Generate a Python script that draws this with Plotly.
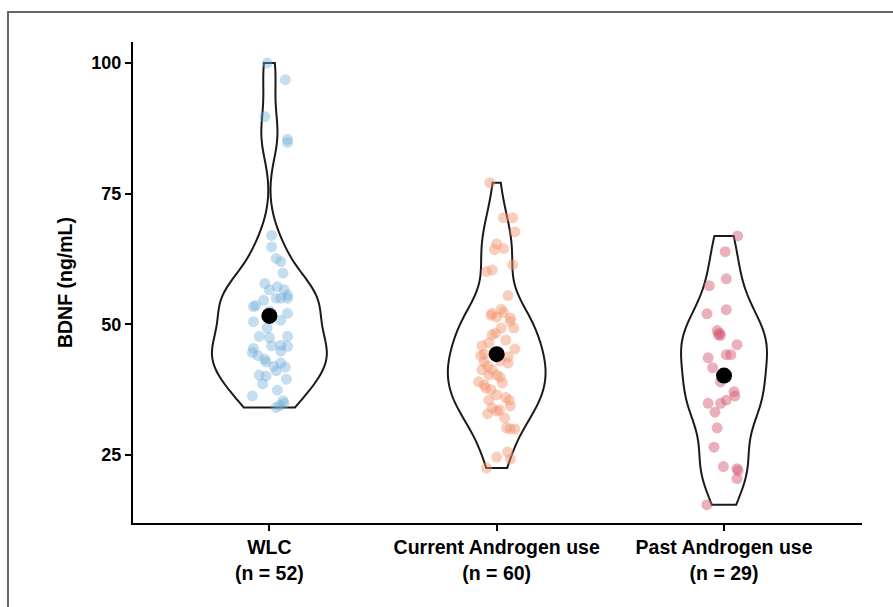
import numpy as np
import plotly.graph_objects as go

categories = ["WLC<br>(n = 52)", "Current Androgen use<br>(n = 60)", "Past Androgen use<br>(n = 29)"]

wlc_values = [100, 96.8, 89.7, 85.4, 84.8, 64.8, 62.6, 62.0, 59.8, 57.8, 56.6, 57.2, 56.6, 55.6,
              55.0, 55.0, 55.0, 53.6, 53.4, 52.1, 50.5, 49.3, 47.7, 47.5, 47.7, 45.4, 44.6, 46.0,
              45.8, 44.9, 43.3, 42.8, 42.0, 42.6, 41.8, 41.1, 40.3, 40.1, 38.6, 37.4, 36.3, 35.4,
              34.9, 34.1, 34.5, 45.9, 54.6, 50.8, 67.0, 44.0, 39.5, 52.5]
wlc_jitter = [-0.01, 0.07, -0.02, 0.08, 0.08, 0.01, 0.03, 0.05, 0.06, -0.02, 0.0, 0.035, 0.065, 0.08,
              0.03, 0.05, 0.08, -0.06, -0.07, 0.08, -0.07, -0.01, -0.045, 0.0, 0.08, -0.07, -0.075, 0.05,
              0.08, 0.05, -0.02, -0.015, 0.02, 0.05, 0.07, 0.03, -0.045, -0.015, -0.03, 0.035, -0.075, 0.06,
              0.065, 0.03, 0.045, 0.01, -0.025, 0.05, 0.01, -0.05, 0.075, 0.0]

current_values = [77.1, 70.4, 70.4, 67.7, 65.4, 64.3, 64.5, 61.4, 60.1, 60.4, 55.5, 52.1, 52.9, 52.3,
                  51.2, 51.7, 51.4, 50.6, 49.3, 49.3, 48.0, 48.3, 45.9, 45.3, 44.3, 43.8, 42.6, 42.8,
                  41.3, 41.3, 40.3, 39.9, 40.3, 38.4, 38.8, 37.5, 37.8, 36.5, 35.5, 35.5, 34.4, 32.9,
                  33.4, 33.6, 32.1, 30.2, 30.0, 30.0, 24.6, 25.6, 24.2, 22.5, 46.5, 44.0, 43.0, 39.0,
                  36.0, 34.0, 47.0, 42.0]
current_jitter = [-0.03, 0.03, 0.07, 0.08, 0.0, -0.01, 0.03, 0.07, -0.045, -0.02, 0.05, -0.02, 0.02, 0.03,
                  0.06, -0.025, 0.0, 0.06, 0.075, 0.02, -0.02, -0.005, -0.065, 0.08, -0.055, 0.05, 0.05, -0.055,
                  -0.065, -0.02, 0.0, 0.015, -0.035, -0.055, 0.025, -0.025, -0.048, 0.0, -0.035, 0.055, 0.06, -0.04,
                  0.0, 0.013, 0.035, 0.043, 0.06, 0.08, 0.0, 0.048, 0.06, -0.045, -0.035, -0.07, 0.015, -0.08,
                  0.04, -0.02, 0.04, -0.04]

past_values = [66.9, 63.9, 58.7, 57.4, 52.8, 52.0, 48.8, 48.0, 47.9, 46.1, 44.2, 44.2, 43.6, 41.7,
               39.0, 37.1, 36.3, 35.5, 34.9, 34.9, 33.2, 30.2, 26.5, 22.8, 22.4, 20.5, 15.5, 22.0, 48.3]
past_jitter = [0.06, 0.005, 0.01, -0.065, 0.01, -0.075, -0.03, -0.025, -0.015, 0.057, 0.01, 0.03, -0.07, -0.05,
               -0.015, 0.044, 0.048, 0.01, -0.015, -0.07, -0.04, -0.03, -0.044, -0.003, 0.057, 0.057, -0.075, 0.062, -0.02]

group_means = [51.6, 44.3, 40.2]
ytick_values = [25, 50, 75, 100]

groups = [wlc_values, current_values, past_values]
jitters = [wlc_jitter, current_jitter, past_jitter]
point_colors = ["rgba(110,172,214,0.40)", "rgba(242,146,106,0.45)", "rgba(212,92,118,0.48)"]
violin_widths = [0.505, 0.43, 0.378]

fig = go.Figure()

for i, vals in enumerate(groups):
    v = np.array(vals, dtype=float)
    q75, q25 = np.percentile(v, [75, 25])
    bw = 0.9 * min(v.std(ddof=1), (q75 - q25) / 1.34) * len(v) ** (-0.2)
    fig.add_trace(go.Violin(
        y=vals, x0=i, name=str(i), spanmode="hard", bandwidth=bw,
        line=dict(color="#1a1a1a", width=2), fillcolor="rgba(255,255,255,0)",
        points=False, box_visible=False, meanline_visible=False,
        width=violin_widths[i], scalemode="width", scalegroup="g%d" % i,
        hoverinfo="skip", showlegend=False,
    ))

for i, vals in enumerate(groups):
    fig.add_trace(go.Scatter(
        x=[i + j for j in jitters[i]], y=vals, mode="markers",
        marker=dict(size=11, color=point_colors[i], line=dict(width=0)),
        showlegend=False, hoverinfo="skip",
    ))

fig.add_trace(go.Scatter(
    x=[0, 1, 2], y=group_means, mode="markers",
    marker=dict(size=16, color="black"), showlegend=False, hoverinfo="skip",
))

fig.add_shape(type="rect", xref="paper", yref="paper",
              x0=-0.1715, x1=1.06, y0=-0.21, y1=1.0624,
              line=dict(color="#666666", width=2), fillcolor="rgba(0,0,0,0)", layer="below")

font_family = "Liberation Sans, Arial, sans-serif"
fig.update_layout(
    width=893, height=607,
    margin=dict(l=133, r=31, t=42, b=84),
    paper_bgcolor="white", plot_bgcolor="white",
    violinmode="overlay",
    font=dict(family=font_family, color="black"),
    xaxis=dict(
        range=[-0.6, 2.607], tickvals=[0, 1, 2], ticktext=categories,
        showline=True, linecolor="black", linewidth=2, ticks="outside",
        ticklen=6, tickwidth=2, tickcolor="black", showgrid=False, zeroline=False,
        tickfont=dict(size=19.5, weight="bold", family=font_family, color="black"),
    ),
    yaxis=dict(
        range=[12, 104], tickvals=ytick_values,
        showline=True, linecolor="black", linewidth=2, ticks="outside",
        ticklen=6, tickwidth=2, tickcolor="black", showgrid=False, zeroline=False,
        tickfont=dict(size=18, weight="bold", family=font_family, color="black"),
        title=dict(text="BDNF (ng/mL)", standoff=14,
                   font=dict(size=19.5, weight="bold", family=font_family, color="black")),
    ),
)

fig.write_html("out.html")
